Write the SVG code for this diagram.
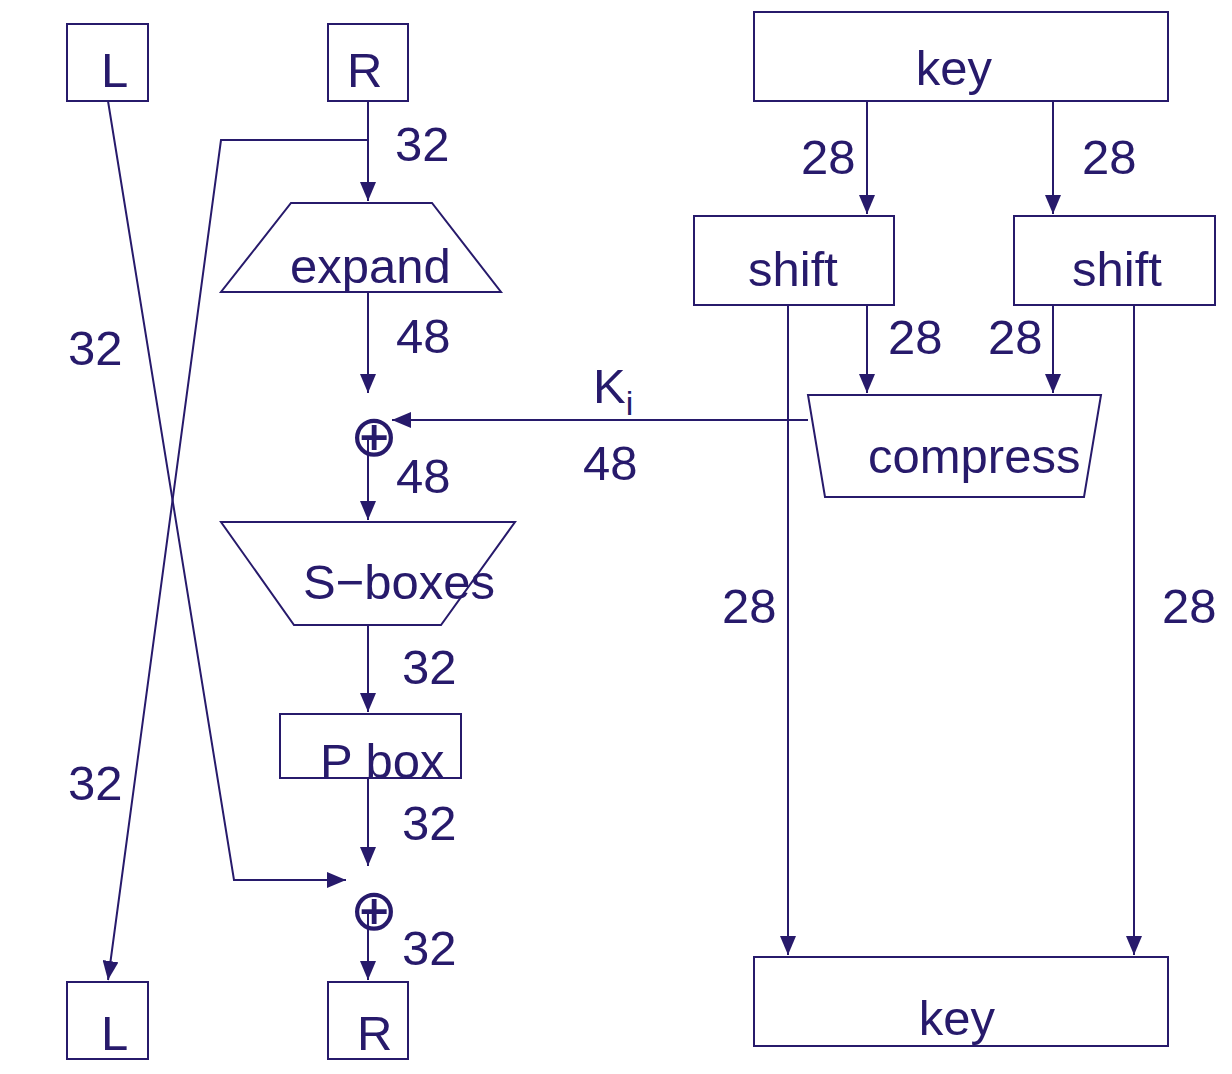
<svg xmlns="http://www.w3.org/2000/svg" width="1232" height="1074" viewBox="0 0 1232 1074">
<style>
.s{fill:none;stroke:#271a6b;stroke-width:2}
.c{fill:none;stroke:#271a6b;stroke-width:2}
.t{font-family:"Liberation Sans",Arial,sans-serif;font-size:49px;fill:#271a6b}
.x{font-family:"DejaVu Sans",sans-serif;font-size:58px;fill:#271a6b}
</style>
<defs>
<marker id="m" markerUnits="userSpaceOnUse" markerWidth="20" markerHeight="16" viewBox="0 0 20 16" refX="19" refY="8" orient="auto">
<path d="M0,0 L19,8 L0,16 Z" fill="#271a6b"/>
</marker>
</defs>
<rect width="1232" height="1074" fill="#fff"/>
<g id="connectors">
<path class="c" d="M368,101 V201" marker-end="url(#m)"/>
<path class="c" d="M368,140 H221 L108,980" marker-end="url(#m)"/>
<path class="c" d="M108,101 L234,880 H346" marker-end="url(#m)"/>
<path class="c" d="M368,292 V393" marker-end="url(#m)"/>
<path class="c" d="M808,420 H392" marker-end="url(#m)"/>
<path class="c" d="M368,440 V520" marker-end="url(#m)"/>
<path class="c" d="M368,625 V712" marker-end="url(#m)"/>
<path class="c" d="M368,778 V866" marker-end="url(#m)"/>
<path class="c" d="M368,914 V980" marker-end="url(#m)"/>
<path class="c" d="M867,101 V214" marker-end="url(#m)"/>
<path class="c" d="M1053,101 V214" marker-end="url(#m)"/>
<path class="c" d="M867,305 V393" marker-end="url(#m)"/>
<path class="c" d="M1053,305 V393" marker-end="url(#m)"/>
<path class="c" d="M788,305 V955" marker-end="url(#m)"/>
<path class="c" d="M1134,305 V955" marker-end="url(#m)"/>
</g>
<g id="L-top"><rect class="s" x="67" y="24" width="81" height="77"/><text class="t" x="101" y="87">L</text></g>
<g id="R-top"><rect class="s" x="328" y="24" width="80" height="77"/><text class="t" x="347" y="87">R</text></g>
<g id="L-bottom"><rect class="s" x="67" y="982" width="81" height="77"/><text class="t" x="101" y="1050">L</text></g>
<g id="R-bottom"><rect class="s" x="328" y="982" width="80" height="77"/><text class="t" x="357" y="1050">R</text></g>
<g id="expand"><polygon class="s" points="291,203 432,203 501,292 221,292"/><text class="t" x="290" y="283">expand</text></g>
<g id="xor1"><text class="x" x="374" y="456" text-anchor="middle">⊕</text></g>
<g id="sboxes"><polygon class="s" points="221,522 515,522 441,625 294,625"/><text class="t" x="303" y="599">S−boxes</text></g>
<g id="pbox"><rect class="s" x="280" y="714" width="181" height="64"/><text class="t" x="320" y="778">P box</text></g>
<g id="xor2"><text class="x" x="374" y="930" text-anchor="middle">⊕</text></g>
<g id="key-top"><rect class="s" x="754" y="12" width="414" height="89"/><text class="t" x="954" y="85" text-anchor="middle">key</text></g>
<g id="shift-left"><rect class="s" x="694" y="216" width="200" height="89"/><text class="t" x="748" y="286">shift</text></g>
<g id="shift-right"><rect class="s" x="1014" y="216" width="201" height="89"/><text class="t" x="1072" y="286">shift</text></g>
<g id="compress"><polygon class="s" points="808,395 1101,395 1084,497 825,497"/><text class="t" x="868" y="473">compress</text></g>
<g id="key-bottom"><rect class="s" x="754" y="957" width="414" height="89"/><text class="t" x="957" y="1035" text-anchor="middle">key</text></g>
<g id="labels">
<text class="t" x="395" y="161">32</text>
<text class="t" x="68" y="365">32</text>
<text class="t" x="396" y="353">48</text>
<text class="t" x="396" y="493">48</text>
<text class="t" x="583" y="480">48</text>
<text class="t" x="593" y="403">K<tspan font-size="34" dy="12">i</tspan></text>
<text class="t" x="402" y="684">32</text>
<text class="t" x="402" y="840">32</text>
<text class="t" x="402" y="965">32</text>
<text class="t" x="68" y="800">32</text>
<text class="t" x="801" y="174">28</text>
<text class="t" x="1082" y="174">28</text>
<text class="t" x="888" y="354">28</text>
<text class="t" x="988" y="354">28</text>
<text class="t" x="722" y="623">28</text>
<text class="t" x="1162" y="623">28</text>
</g>
</svg>
